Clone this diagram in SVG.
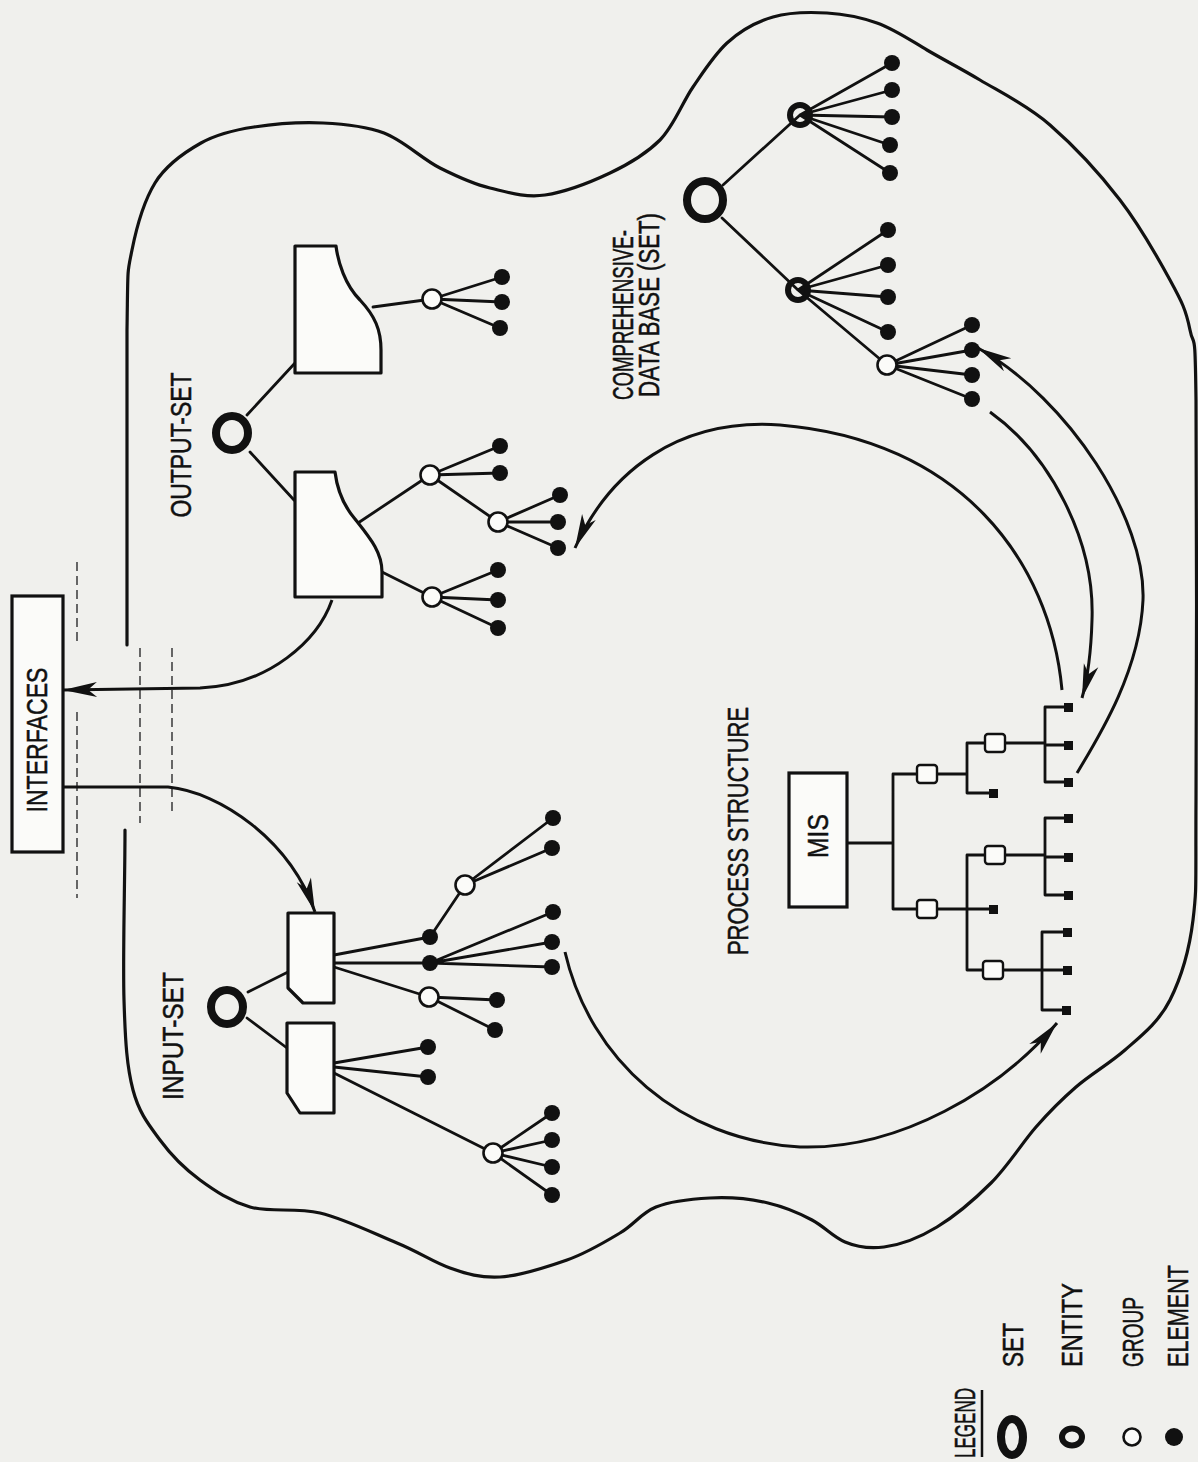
<svg xmlns="http://www.w3.org/2000/svg" width="1198" height="1462" viewBox="0 0 1198 1462">
<defs>
<style>
.bg{fill:#f0f0ed}
.ln{stroke:#111;stroke-width:2.8;fill:none;stroke-linecap:round}
.cloud{stroke:#111;stroke-width:3.2;fill:none;stroke-linecap:round}
.dash{stroke:#444;stroke-width:1.6;fill:none;stroke-dasharray:9 5}
.arc{stroke:#111;stroke-width:3;fill:none}
.ent{fill:#fbfbf9;stroke:#111;stroke-width:3.2;stroke-linejoin:round}
.set{fill:none;stroke:#111;stroke-width:8}
.entity{fill:none;stroke:#111;stroke-width:6}
.grp{fill:#fbfbf9;stroke:#111;stroke-width:2.6}
.el{fill:#111}
.sq{fill:#fbfbf9;stroke:#111;stroke-width:2.4}
.leaf{fill:#111}
.box{fill:#fbfbf9;stroke:#111;stroke-width:3.2}
.lbl{font-family:"Liberation Sans",Arial,sans-serif;font-size:29px;fill:#111;stroke:#111;stroke-width:0.5;text-anchor:middle}
.lgd{font-family:"Liberation Sans",Arial,sans-serif;font-size:29px;fill:#111;stroke:#111;stroke-width:0.5;text-anchor:start}
</style>
<marker id="ah" markerUnits="userSpaceOnUse" viewBox="-36 -9 38 18" refX="0" refY="0" markerWidth="38" markerHeight="18" orient="auto">
<path d="M0,0 L-34,-7.5 L-25,0 L-34,7.5 Z" fill="#111"/>
</marker>
</defs>
<rect class="bg" x="0" y="0" width="1198" height="1462"/>

<g id="boundary">
<path class="cloud" d="M125,830 C125,880 122.7,956.7 124,1000 S127,1067 133,1090 S149,1125 160,1140 S185,1169 200,1180 S230,1201 250,1207 S295,1207 320,1213 S375,1234 397,1243 S433,1262 450,1268 S480,1278 500,1277 S547,1267 567,1260 S605,1242 620,1233 S641,1213 656,1207 S691,1199 710,1198 S751,1199 768,1203 S799,1213 812,1220 S833,1237 845,1242 S869,1249 884,1247 S919,1238 937,1227 S974,1200 991,1183 S1022,1143 1036,1127 S1061,1100 1076,1087 S1109,1064 1125,1050 S1159,1022 1170,1000 S1189,953 1193,920 S1195.5,887 1196,800 S1197,478 1196,400 S1194,350 1190,330 S1182,302 1170,280 S1140,226 1120,200 S1073,145 1050,125 S1000,92 980,80 S944,60 927,50 S894,29 877,23 S844,14 827,13 S790,12 773,17 S740,31 727,43 S704,71 693,87 S674,126 660,140 S629,164 610,173 S565,192 545,195 S507,192 490,188 S458,177 440,168 S403,140 384,133 S345,124 323,123 S274,124 254,127 S217,134 201,143 S166,165 155,183 S137,225 132,250 S128,264 127,330 L127,645"/>
<path class="dash" d="M77,562 L77,643 M77,712 L77,898 M140,648 L140,823 M172,648 L172,813"/>
</g>

<g id="interfaces">
<rect class="box" x="12" y="596" width="51" height="256"/>
<text class="lbl" transform="translate(47,740) rotate(-90)" textLength="145" lengthAdjust="spacingAndGlyphs">INTERFACES</text>
</g>

<g id="connectors">
<path class="ln" d="M247,415 L295,363 M250,452 L294,500 M373,307 L432,299 M432,299 L502,277 M432,299 L502,302 M432,299 L500,328 M358,523 L430,475 M430,475 L500,446 M430,475 L500,473 M430,475 L498,522 M498,522 L560,495 M498,522 L558,522 M498,522 L558,548 M382,572 L432,597 M432,597 L498,570 M432,597 L498,600 M432,597 L498,628"/>
<path class="ln" d="M248,992 L288,972 M247,1018 L287,1048 M334,955 L430,937 M334,963 L430,963 M334,967 L429,997 M430,937 L465,885 M465,885 L553,818 M465,885 L552,848 M430,963 L553,912 M430,963 L552,942 M430,963 L552,967 M429,997 L497,1000 M429,997 L495,1030 M334,1063 L428,1047 M334,1067 L428,1077 M334,1073 L493,1153 M493,1153 L552,1113 M493,1153 L552,1140 M493,1153 L552,1167 M493,1153 L552,1195"/>
<path class="ln" d="M723,185 L800,115 M722,218 L798,290 M800,115 L892,63 M800,115 L892,90 M800,115 L892,117 M800,115 L890,145 M800,115 L890,173 M798,290 L888,230 M798,290 L888,265 M798,290 L888,297 M798,290 L888,332 M798,290 L887,365 M887,365 L972,325 M887,365 L972,350 M887,365 L972,375 M887,365 L972,399"/>
<path class="ln" d="M847,843 L893,843 M893,774 L893,909 M893,774 L967,774 M967,743 L967,793 M967,743 L1045,743 M1045,707 L1045,782 M1045,707 L1064,707 M1045,745 L1064,745 M1045,782 L1064,782 M967,793 L990,793 M893,909 L967,909 M967,855 L967,970 M967,909 L990,909 M967,855 L1045,855 M1045,818 L1045,895 M1045,818 L1064,818 M1045,857 L1064,857 M1045,895 L1064,895 M967,970 L1042,970 M1042,932 L1042,1010 M1042,932 L1063,932 M1042,970 L1063,970 M1042,1010 L1062,1010"/>
<path class="arc" marker-end="url(#ah)" d="M332,600 C318,640 270,685 200,688 L63,690"/>
<path class="arc" marker-end="url(#ah)" d="M63,787 L168,787 C220,792 290,840 315,912"/>
<path class="arc" marker-end="url(#ah)" d="M1062,690 C1050,560 960,440 780,425 C680,418 610,470 575,548"/>
<path class="arc" marker-end="url(#ah)" d="M990,412 C1050,455 1095,540 1092,620 C1091,655 1087,680 1082,698"/>
<path class="arc" marker-end="url(#ah)" d="M1077,773 C1100,735 1140,670 1143,600 C1146,520 1070,400 978,348"/>
<path class="arc" marker-end="url(#ah)" d="M565,952 C590,1060 680,1140 800,1147 C900,1150 1000,1090 1057,1023"/>
</g>

<g id="output-set">
<text class="lbl" transform="translate(191,445) rotate(-90)" textLength="145" lengthAdjust="spacingAndGlyphs">OUTPUT-SET</text>
<ellipse id="output-set-ring" class="set" cx="232" cy="433" rx="16" ry="17"/>
<path id="output-entity-1" class="ent" d="M295,246 L336,246 C338,262 345,285 360,300 C375,316 381,330 381,350 L381,373 L295,373 Z"/>
<path id="output-entity-2" class="ent" d="M295,472 L335,472 C337,488 343,505 355,519 C370,538 382,552 382,572 L382,597 L295,597 Z"/>
<g id="output-groups">
<circle class="grp" cx="432" cy="299" r="9.5"/>
<circle class="grp" cx="430" cy="475" r="9.5"/>
<circle class="grp" cx="498" cy="522" r="9.5"/>
<circle class="grp" cx="432" cy="597" r="9.5"/>
</g>
<g id="output-elements" class="el">
<circle cx="502" cy="277" r="8"/><circle cx="502" cy="302" r="8"/><circle cx="500" cy="328" r="8"/>
<circle cx="500" cy="446" r="8"/><circle cx="500" cy="473" r="8"/>
<circle cx="560" cy="495" r="8"/><circle cx="558" cy="522" r="8"/><circle cx="558" cy="548" r="8"/>
<circle cx="498" cy="570" r="8"/><circle cx="498" cy="600" r="8"/><circle cx="498" cy="628" r="8"/>
</g>
</g>

<g id="input-set">
<text class="lbl" transform="translate(183,1036) rotate(-90)" textLength="128" lengthAdjust="spacingAndGlyphs">INPUT-SET</text>
<ellipse id="input-set-ring" class="set" cx="227" cy="1007" rx="16" ry="17"/>
<path id="input-entity-1" class="ent" d="M288,913 L334,913 L334,1003 L303,1003 L288,988 Z"/>
<path id="input-entity-2" class="ent" d="M287,1023 L334,1023 L334,1113 L300,1113 L287,1093 Z"/>
<g id="input-groups">
<circle class="grp" cx="465" cy="885" r="9.5"/>
<circle class="grp" cx="429" cy="997" r="9.5"/>
<circle class="grp" cx="493" cy="1153" r="9.5"/>
</g>
<g id="input-elements" class="el">
<circle cx="430" cy="937" r="8"/><circle cx="430" cy="963" r="8"/>
<circle cx="553" cy="818" r="8"/><circle cx="552" cy="848" r="8"/>
<circle cx="553" cy="912" r="8"/><circle cx="552" cy="942" r="8"/><circle cx="552" cy="967" r="8"/>
<circle cx="497" cy="1000" r="8"/><circle cx="495" cy="1030" r="8"/>
<circle cx="428" cy="1047" r="8"/><circle cx="428" cy="1077" r="8"/>
<circle cx="552" cy="1113" r="8"/><circle cx="552" cy="1140" r="8"/><circle cx="552" cy="1167" r="8"/><circle cx="552" cy="1195" r="8"/>
</g>
</g>

<g id="comprehensive-data-base">
<text class="lbl" transform="translate(633,315) rotate(-90)" textLength="170" lengthAdjust="spacingAndGlyphs">COMPREHENSIVE-</text>
<text class="lbl" transform="translate(659,305) rotate(-90)" textLength="184" lengthAdjust="spacingAndGlyphs">DATA BASE (SET)</text>
<ellipse id="db-set-ring" class="set" cx="705" cy="200" rx="18" ry="19"/>
<circle id="db-entity-1" class="entity" cx="800" cy="115" r="10"/>
<circle id="db-entity-2" class="entity" cx="798" cy="290" r="10"/>
<circle id="db-group" class="grp" cx="887" cy="365" r="9.5"/>
<g id="db-elements" class="el">
<circle cx="892" cy="63" r="8"/><circle cx="892" cy="90" r="8"/><circle cx="892" cy="117" r="8"/><circle cx="890" cy="145" r="8"/><circle cx="890" cy="173" r="8"/>
<circle cx="888" cy="230" r="8"/><circle cx="888" cy="265" r="8"/><circle cx="888" cy="297" r="8"/><circle cx="888" cy="332" r="8"/>
<circle cx="972" cy="325" r="8"/><circle cx="972" cy="350" r="8"/><circle cx="972" cy="375" r="8"/><circle cx="972" cy="399" r="8"/>
</g>
</g>

<g id="process-structure">
<text class="lbl" transform="translate(748,831) rotate(-90)" textLength="248" lengthAdjust="spacingAndGlyphs">PROCESS STRUCTURE</text>
<g id="mis">
<rect class="box" x="789" y="773" width="58" height="134"/>
<text class="lbl" transform="translate(828,836) rotate(-90)" textLength="44" lengthAdjust="spacingAndGlyphs">MIS</text>
</g>
<g id="process-modules">
<rect class="sq" x="917" y="765" width="20" height="18" rx="3"/>
<rect class="sq" x="985" y="734" width="20" height="18" rx="3"/>
<rect class="sq" x="917" y="900" width="20" height="18" rx="3"/>
<rect class="sq" x="985" y="846" width="20" height="18" rx="3"/>
<rect class="sq" x="983" y="961" width="20" height="18" rx="3"/>
</g>
<g id="process-leaves" class="leaf">
<rect x="1064" y="703" width="9" height="9"/><rect x="1064" y="741" width="9" height="9"/><rect x="1064" y="778" width="9" height="9"/>
<rect x="989" y="789" width="9" height="9"/>
<rect x="1064" y="814" width="9" height="9"/><rect x="1064" y="853" width="9" height="9"/><rect x="1064" y="891" width="9" height="9"/>
<rect x="989" y="905" width="9" height="9"/>
<rect x="1063" y="928" width="9" height="9"/><rect x="1063" y="966" width="9" height="9"/><rect x="1062" y="1006" width="9" height="9"/>
</g>
</g>

<g id="legend">
<text class="lbl" transform="translate(975,1423) rotate(-90)" textLength="70" lengthAdjust="spacingAndGlyphs">LEGEND</text>
<line x1="982" y1="1390" x2="982" y2="1457" stroke="#111" stroke-width="2.5"/>
<g id="legend-set"><ellipse class="set" cx="1012" cy="1437" rx="11" ry="18" stroke-width="7"/><text class="lgd" transform="translate(1023,1367) rotate(-90)" textLength="44" lengthAdjust="spacingAndGlyphs">SET</text></g>
<g id="legend-entity"><ellipse class="entity" cx="1072" cy="1437" rx="10" ry="8.5"/><text class="lgd" transform="translate(1082,1367) rotate(-90)" textLength="84" lengthAdjust="spacingAndGlyphs">ENTITY</text></g>
<g id="legend-group"><circle class="grp" cx="1132" cy="1437" r="8.5" stroke-width="2"/><text class="lgd" transform="translate(1143,1367) rotate(-90)" textLength="70" lengthAdjust="spacingAndGlyphs">GROUP</text></g>
<g id="legend-element"><circle class="el" cx="1174" cy="1437" r="9"/><text class="lgd" transform="translate(1188,1367) rotate(-90)" textLength="102" lengthAdjust="spacingAndGlyphs">ELEMENT</text></g>
</g>
</svg>
